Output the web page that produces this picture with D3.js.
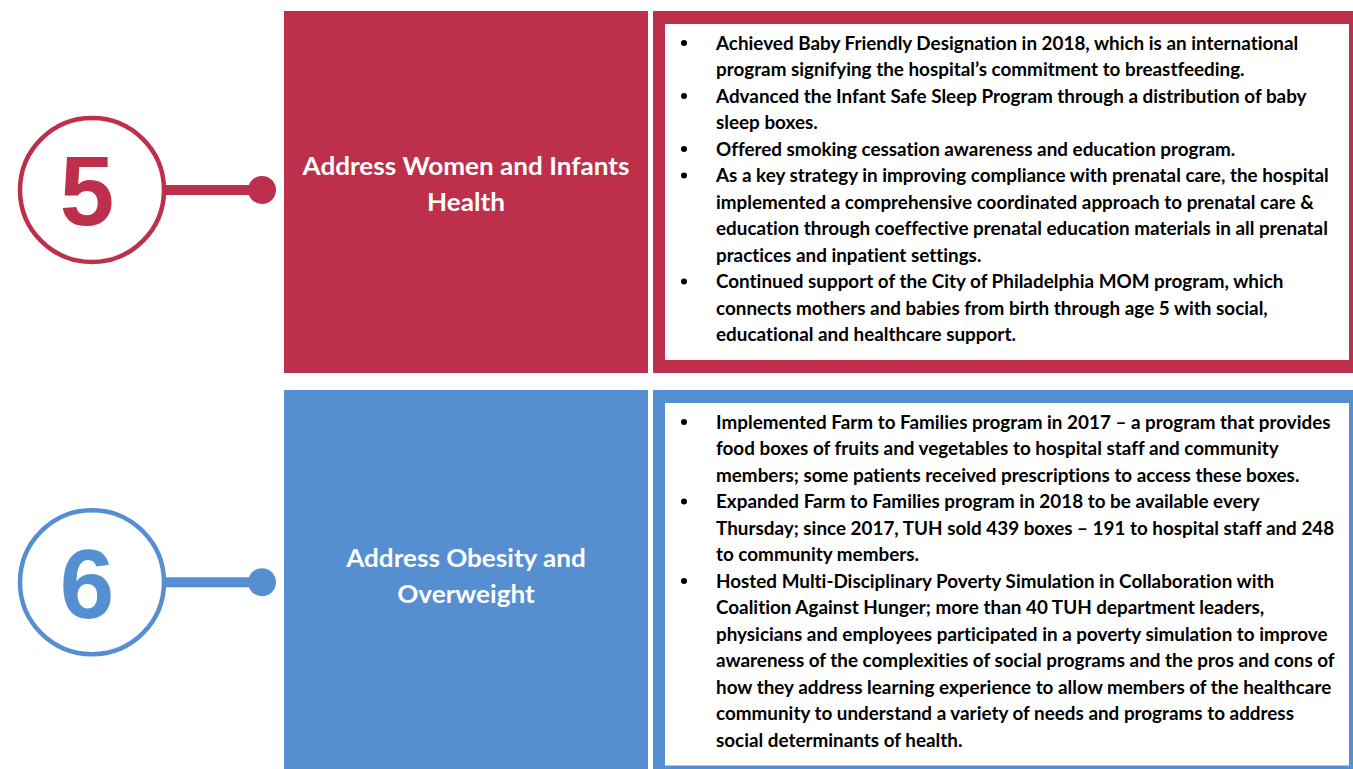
<!DOCTYPE html>
<html>
<head>
<meta charset="utf-8">
<script src="https://cdn.jsdelivr.net/npm/d3@7"></script>
<style>
  body { margin: 0; background: #fff; }
  svg { display: block; }
  text { font-variant-ligatures: none; }
</style>
</head>
<body>
<svg width="1353" height="769"></svg>
<script>
var svg = d3.select('svg');

// goal numbers, titles and colours
var goalNumbers = ['5', '6'];
var goalTitles = [['Address Women and Infants', 'Health'],
                  ['Address Obesity and', 'Overweight']];
var goalColors = ['#BD2F4A', '#568ED2'];

// bullet points, each one a list of its printed lines
var goal5Bullets = [
  ['Achieved Baby Friendly Designation in 2018, which is an international',
   'program signifying the hospital\u2019s commitment to breastfeeding.'],
  ['Advanced the Infant Safe Sleep Program through a distribution of baby',
   'sleep boxes.'],
  ['Offered smoking cessation awareness and education program.'],
  ['As a key strategy in improving compliance with prenatal care, the hospital',
   'implemented a comprehensive coordinated approach to prenatal care &',
   'education through coeffective prenatal education materials in all prenatal',
   'practices and inpatient settings.'],
  ['Continued support of the City of Philadelphia MOM program, which',
   'connects mothers and babies from birth through age 5 with social,',
   'educational and healthcare support.']
];
var goal6Bullets = [
  ['Implemented Farm to Families program in 2017 \u2013 a program that provides',
   'food boxes of fruits and vegetables to hospital staff and community',
   'members; some patients received prescriptions to access these boxes.'],
  ['Expanded Farm to Families program in 2018 to be available every',
   'Thursday; since 2017, TUH sold 439 boxes \u2013 191 to hospital staff and 248',
   'to community members.'],
  ['Hosted Multi-Disciplinary Poverty Simulation in Collaboration with',
   'Coalition Against Hunger; more than 40 TUH department leaders,',
   'physicians and employees participated in a poverty simulation to improve',
   'awareness of the complexities of social programs and the pros and cons of',
   'how they address learning experience to allow members of the healthcare',
   'community to understand a variety of needs and programs to address',
   'social determinants of health.']
];
var goalBullets = [goal5Bullets, goal6Bullets];

var lineH = 26.5;
var rowPad = 44;
var rowGap = 17;
var top0 = 11;
var textX = 716;
var maxTextW = 619;   // widest printed line in the reference
var titleW = 327;     // width of the first title line

var bodyFont = 'Lato, "Open Sans", sans-serif';
var titleFont = 'Lato, "Open Sans", sans-serif';

var bodyTexts = [];
var titleTexts = [];

var y = top0;
goalNumbers.forEach(function(num, i) {
  var color = goalColors[i];
  var nLines = d3.sum(goalBullets[i], function(b) { return b.length; });
  var h = nLines * lineH + rowPad;
  var g = svg.append('g').attr('transform', 'translate(0,' + y + ')');
  var mid = h / 2;

  // numbered circle with connector
  g.append('circle')
    .attr('cx', 92).attr('cy', mid - 2).attr('r', 72)
    .attr('fill', 'none').attr('stroke', color).attr('stroke-width', 4.5);
  g.append('line')
    .attr('x1', 166).attr('x2', 262)
    .attr('y1', mid - 2).attr('y2', mid - 2)
    .attr('stroke', color).attr('stroke-width', 10);
  g.append('circle')
    .attr('cx', 262).attr('cy', mid - 2).attr('r', 14)
    .attr('fill', color);
  g.append('text')
    .attr('x', 87).attr('y', mid - 2)
    .attr('dy', '0.36em')
    .attr('text-anchor', 'middle')
    .attr('font-family', '"Liberation Sans", Arial, sans-serif')
    .attr('font-weight', 'bold')
    .attr('font-size', 98)
    .attr('fill', color)
    .text(num);

  // title box
  g.append('rect')
    .attr('x', 284).attr('y', 0).attr('width', 364).attr('height', h)
    .attr('fill', color);
  var tt = g.selectAll('text.title')
    .data(goalTitles[i])
    .enter()
    .append('text')
    .attr('class', 'title')
    .attr('x', 466)
    .attr('y', function(d, k) { return mid - 8 + (k - (goalTitles[i].length - 1) / 2) * 36; })
    .attr('dy', '0.35em')
    .attr('text-anchor', 'middle')
    .attr('font-family', titleFont)
    .attr('font-weight', 'bold')
    .attr('font-size', 25)
    .attr('fill', '#fff')
    .text(function(d) { return d; });
  titleTexts.push(tt);

  // content box
  g.append('rect')
    .attr('x', 653).attr('y', 0).attr('width', 720).attr('height', h)
    .attr('fill', color);
  g.append('rect')
    .attr('x', 665).attr('y', 13).attr('width', 684).attr('height', h - 26)
    .attr('fill', '#fff');

  var lines = [];
  goalBullets[i].forEach(function(b) {
    b.forEach(function(t, k) { lines.push({text: t, first: k === 0}); });
  });
  lines.forEach(function(d, k) { d.y = 32 + k * lineH; });

  g.selectAll('circle.dot')
    .data(lines.filter(function(d) { return d.first; }))
    .enter()
    .append('circle')
    .attr('class', 'dot')
    .attr('cx', 684)
    .attr('cy', function(d) { return d.y; })
    .attr('r', 3)
    .attr('fill', '#000');

  var tg = g.append('g').attr('class', 'body');
  tg.selectAll('text')
    .data(lines)
    .enter()
    .append('text')
    .attr('x', 0)
    .attr('y', function(d) { return d.y; })
    .attr('dy', '0.35em')
    .attr('font-family', bodyFont)
    .attr('font-weight', 'bold')
    .attr('font-size', 19)
    .attr('fill', '#000')
    .text(function(d) { return d.text; });
  bodyTexts.push(tg);

  y += h + rowGap;
});

// fit the body text to the reference line width (narrow office font)
var widest = 0;
bodyTexts.forEach(function(tg) {
  tg.selectAll('text').each(function() {
    widest = Math.max(widest, this.getComputedTextLength());
  });
});
var sx = maxTextW / widest;
bodyTexts.forEach(function(tg) {
  tg.attr('transform', 'translate(' + textX + ',0) scale(' + sx + ',1)');
});

// same for the titles, using the first line of the first title
var tw = titleTexts[0].node().getComputedTextLength();
var tsx = titleW / tw;
titleTexts.forEach(function(tt) {
  tt.attr('transform', 'translate(466,0) scale(' + tsx + ',1) translate(-466,0)');
});
</script>
</body>
</html>
